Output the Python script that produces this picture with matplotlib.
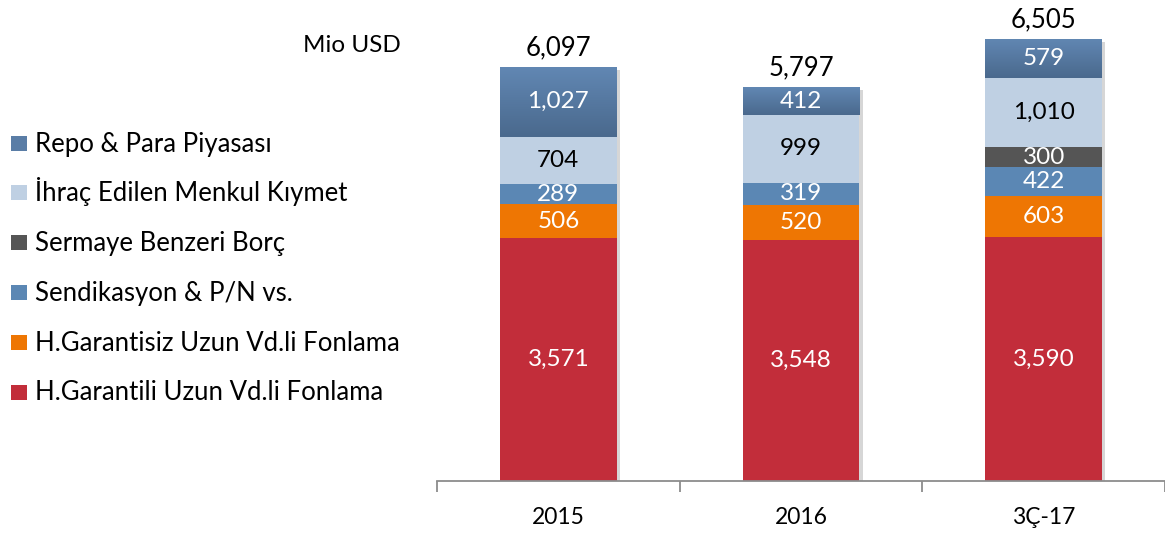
import numpy as np
import matplotlib
matplotlib.use("Agg")
import matplotlib.pyplot as plt
import matplotlib.patheffects as pe
from matplotlib.patches import Rectangle

plt.rcParams['font.family'] = ['Lato', 'DejaVu Sans']

categories = ["2015", "2016", "3Ç-17"]
series_names = ["H.Garantili Uzun Vd.li Fonlama", "H.Garantisiz Uzun Vd.li Fonlama",
                "Sendikasyon & P/N vs.", "Sermaye Benzeri Borç",
                "İhraç Edilen Menkul Kıymet", "Repo & Para Piyasası"]
garantili = [3571, 3548, 3590]
garantisiz = [506, 520, 603]
sendikasyon = [289, 319, 422]
sermaye = [0, 0, 300]
ihrac = [704, 999, 1010]
repo = [1027, 412, 579]
totals = ["6,097", "5,797", "6,505"]

series = [garantili, garantisiz, sendikasyon, sermaye, ihrac, repo]
colors = ["#C22D3A", "#EE7603", "#5B87B4", "#555555", "#BFD0E3", "#5A7DA6"]
text_colors = ["white", "white", "white", "white", "black", "white"]

W, H = 1165, 534
fig = plt.figure(figsize=(W / 100, H / 100), dpi=100)
ax = fig.add_axes([437 / W, 1 - 481 / H, 1 - 437 / W, 481 / H])

x = np.arange(len(categories))
w = 0.48
stack_total = np.sum(np.array(series, dtype=float), axis=0)

# soft shadow behind each whole column
back = ax.bar(x, stack_total, w, color="white", linewidth=0, zorder=1)
for b in back:
    b.set_path_effects([pe.SimplePatchShadow(offset=(2.5, -2), shadow_rgbFace="#9a9a9a", alpha=0.4), pe.Normal()])

cmap = matplotlib.colors.LinearSegmentedColormap.from_list("g", ["#4A698D", "#6187B3"])
bottom = np.zeros(len(categories))
for i, vals in enumerate(series):
    vals = np.array(vals, dtype=float)
    bars = ax.bar(x, vals, w, bottom=bottom, color=colors[i], linewidth=0, zorder=2)
    if i == 5:
        grad = np.linspace(0, 1, 100).reshape(-1, 1)
        for b in bars:
            im = ax.imshow(grad, cmap=cmap, aspect="auto", origin="lower",
                           extent=[b.get_x(), b.get_x() + b.get_width(), b.get_y(), b.get_y() + b.get_height()],
                           zorder=2.5)
            im.set_clip_path(b)
    for j, v in enumerate(vals):
        if v > 0:
            ax.text(x[j], bottom[j] + v / 2, f"{int(v):,}", ha="center", va="center",
                    color=text_colors[i], fontsize=17.5, zorder=5)
    bottom += vals

for j in range(len(categories)):
    ax.text(x[j], bottom[j] + 175, totals[j], ha="center", va="baseline", fontsize=18.5, color="black")

ax.set_xlim(-0.5, 2.47)
ax.set_ylim(0, 7079)
ax.set_xticks(x)
ax.set_xticklabels(categories, fontsize=16.5)
ax.set_xticks([-0.5, 0.5, 1.5, 2.5], minor=True)
ax.tick_params(axis="x", which="major", length=0, pad=19)
ax.tick_params(axis="x", which="minor", length=8, width=1.3, color="#8C8C8C", direction="out")
ax.set_yticks([])
for s in ["top", "right", "left"]:
    ax.spines[s].set_visible(False)
ax.spines["bottom"].set_color("#8C8C8C")
ax.spines["bottom"].set_linewidth(1.3)

fig.text(401 / W, 1 - 46 / H, "Mio USD", ha="right", va="center", fontsize=17.5)

# legend on the left, top entry = top segment
leg_colors = colors[::-1]
leg_names = series_names[::-1]
for k, (name, col) in enumerate(zip(leg_names, leg_colors)):
    yc = 143 + k * 49.8
    fig.patches.append(Rectangle((11 / W, 1 - (yc + 7.5) / H), 16 / W, 15 / H,
                                 transform=fig.transFigure, facecolor=col, edgecolor="none"))
    fig.text(35 / W, 1 - (yc + 8.5) / H, name, ha="left", va="baseline", fontsize=18.5)

fig.savefig("out.png", dpi=100)
